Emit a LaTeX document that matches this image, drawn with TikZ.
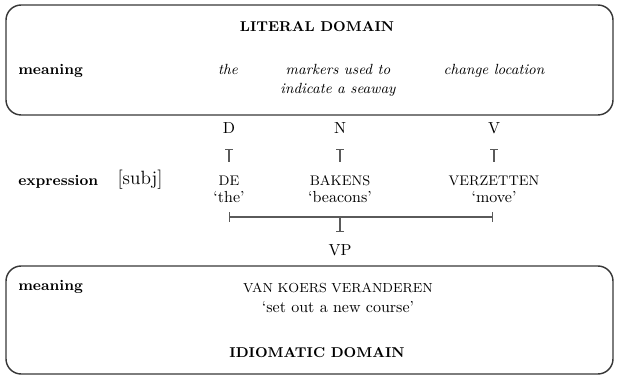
\documentclass[tikz,border=0pt]{standalone}
\usetikzlibrary{arrows.meta}
\definecolor{framegray}{HTML}{383838}
\definecolor{linkgray}{HTML}{5A5A5A}
\begin{document}
\begin{tikzpicture}[x=0.625pt,y=-0.625pt,
  txt/.style={inner sep=0pt, text height=7pt, text depth=2pt},
  head/.style={txt, font=\fontsize{8.9}{11}\selectfont\bfseries},
  rowlabel/.style={txt, font=\fontsize{9.3}{11}\selectfont\bfseries, anchor=west},
  gloss/.style={txt, font=\fontsize{9.2}{11}\selectfont\itshape},
  caps/.style={txt, font=\fontsize{8.7}{10}\selectfont},
  domainbox/.style={draw=framegray, line width=0.9pt, rounded corners=9.5pt},
  stem/.style={draw=linkgray, line width=0.7pt, {Bar[width=5pt,line width=0.7pt]}-},
  bracket/.style={draw=linkgray, line width=1.2pt, {Bar[width=6pt,line width=0.7pt]}-{Bar[width=6pt,line width=0.7pt]}},
  drop/.style={draw=linkgray, line width=0.7pt, -{Bar[width=5pt,line width=0.7pt]}}
]
\useasboundingbox (0,0) rectangle (620,377);

% literal domain
\draw[domainbox] (6,5) rectangle (613,115);
\node[head] (littitle) at (317,28) {LITERAL DOMAIN};
\node[rowlabel] (litmeaning) at (18,71) {meaning};
\node[gloss] (mthe) at (228,71) {the};
\node[gloss] (mmark1) at (338,71) {markers used to};
\node[gloss] (mmark2) at (338,90) {indicate a seaway};
\node[gloss] (mchange) at (494,71) {change location};

% categories
\node[txt] (catD) at (229,130) {D};
\node[txt] (catN) at (340,130) {N};
\node[txt] (catV) at (494,130) {V};

% expression row
\node[rowlabel] (exprlabel) at (18,182) {expression};
\node[txt, font=\fontsize{12}{14}\selectfont] (subj) at (140,181) {[subj]};
\node[caps] (wDE) at (229,182) {DE};
\node[txt] (gDE) at (229,199) {‘the’};
\node[caps] (wBAK) at (340,182) {BAKENS};
\node[txt] (gBAK) at (340,199) {‘beacons’};
\node[caps] (wVER) at (494,182) {VERZETTEN};
\node[txt] (gVER) at (494,199) {‘move’};

% word-to-category links
\draw[stem, shorten <=7pt, shorten >=8pt] (catD) -- (wDE);
\draw[stem, shorten <=7pt, shorten >=8pt] (catN) -- (wBAK);
\draw[stem, shorten <=7pt, shorten >=8pt] (catV) -- (wVER);

% phrase bracket
\coordinate (brL) at (229,217);
\coordinate (brR) at (493,217);
\coordinate (brM) at (340,217);
\node[txt] (vp) at (340,252) {VP};
\draw[bracket] (brL) -- (brR);
\draw[drop, shorten >=7.5pt] (brM) -- (vp);

% idiomatic domain
\draw[domainbox] (6,266) rectangle (613,374);
\node[rowlabel] (idmeaning) at (18,287) {meaning};
\node[caps, font=\fontsize{8.2}{10}\selectfont] (idform) at (338,289) {VAN KOERS VERANDEREN};
\node[txt] (idgloss) at (338,309) {‘set out a new course’};
\node[head] (idtitle) at (317,354) {IDIOMATIC DOMAIN};
\end{tikzpicture}
\end{document}
